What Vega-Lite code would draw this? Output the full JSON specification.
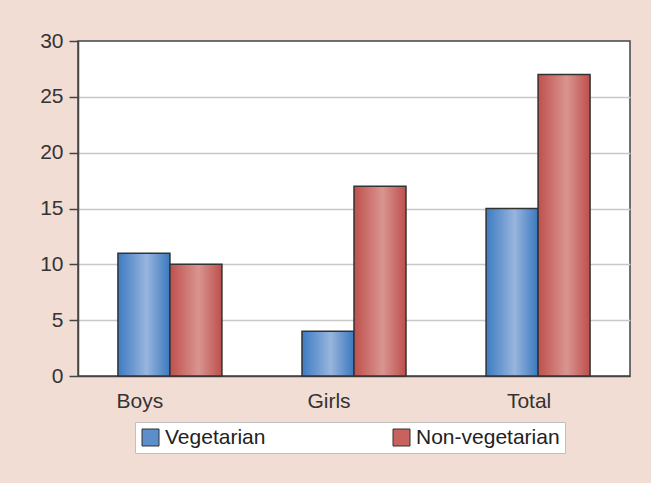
{
  "$schema": "https://vega.github.io/schema/vega-lite/v6.json",
  "width": 552,
  "height": 335,
  "autosize": "none",
  "padding": {"left": 78, "top": 41, "right": 21, "bottom": 107},
  "background": "#f2ddd4",
  "config": {
    "view": {"fill": "white", "stroke": "#444444", "strokeWidth": 1.5},
    "font": "Liberation Sans"
  },
  "data": {
    "values": [
      {"group": "Boys", "diet": "Vegetarian", "count": 11},
      {"group": "Boys", "diet": "Non-vegetarian", "count": 10},
      {"group": "Girls", "diet": "Vegetarian", "count": 4},
      {"group": "Girls", "diet": "Non-vegetarian", "count": 17},
      {"group": "Total", "diet": "Vegetarian", "count": 15},
      {"group": "Total", "diet": "Non-vegetarian", "count": 27}
    ]
  },
  "encoding": {
    "x": {
      "field": "group",
      "type": "nominal",
      "sort": ["Boys", "Girls", "Total"],
      "scale": {"paddingInner": 0.435, "paddingOuter": 0.217},
      "axis": {
        "title": null,
        "ticks": false,
        "domainColor": "#444444",
        "domainWidth": 1.5,
        "labelFontSize": 21,
        "labelColor": "#333333",
        "labelPadding": 14,
        "labelAngle": 0,
        "labelOffset": {
          "condition": [
            {"test": "datum.value === 'Boys'", "value": -30},
            {"test": "datum.value === 'Girls'", "value": -25}
          ],
          "value": -9
        }
      }
    },
    "xOffset": {
      "field": "diet",
      "type": "nominal",
      "sort": ["Vegetarian", "Non-vegetarian"],
      "scale": {"paddingInner": 0, "paddingOuter": 0}
    },
    "y": {
      "field": "count",
      "type": "quantitative",
      "scale": {"domain": [0, 30], "nice": false},
      "axis": {
        "title": null,
        "values": [0, 5, 10, 15, 20, 25, 30],
        "tickSize": 9,
        "tickColor": "#444444",
        "tickWidth": 1.5,
        "domainColor": "#444444",
        "domainWidth": 1.5,
        "labelFontSize": 21,
        "labelColor": "#333333",
        "labelPadding": 6,
        "gridColor": "#c8c8c8",
        "gridWidth": 1.5,
        "gridOpacity": {
          "condition": {"test": "datum.value === 0 || datum.value === 30", "value": 0},
          "value": 1
        }
      }
    }
  },
  "layer": [
    {
      "mark": {"type": "bar"},
      "encoding": {
        "color": {
          "field": "diet",
          "type": "nominal",
          "sort": ["Vegetarian", "Non-vegetarian"],
          "scale": {"domain": ["Vegetarian", "Non-vegetarian"], "range": ["#5a8fcc", "#c9615d"]},
          "legend": {
            "orient": "none",
            "legendX": 57,
            "legendY": 381,
            "direction": "horizontal",
            "title": null,
            "symbolType": "square",
            "symbolSize": 289,
            "symbolStrokeColor": "#333333",
            "symbolStrokeWidth": 1,
            "labelFontSize": 21,
            "labelColor": "#222222",
            "labelOffset": 4,
            "columnPadding": 125,
            "padding": 5,
            "strokeColor": "#c0c0c0",
            "fillColor": "white",
            "labelLimit": 300
          }
        }
      }
    },
    {
      "transform": [{"filter": "datum.diet === 'Vegetarian'"}],
      "mark": {
        "type": "bar",
        "stroke": "#333333",
        "strokeWidth": 1.5,
        "fill": {
          "gradient": "linear",
          "x1": 0, "y1": 0, "x2": 1, "y2": 0,
          "stops": [
            {"offset": 0, "color": "#3d7bc2"},
            {"offset": 0.55, "color": "#98b5dd"},
            {"offset": 1, "color": "#3a79bf"}
          ]
        }
      }
    },
    {
      "transform": [{"filter": "datum.diet === 'Non-vegetarian'"}],
      "mark": {
        "type": "bar",
        "stroke": "#333333",
        "strokeWidth": 1.5,
        "fill": {
          "gradient": "linear",
          "x1": 0, "y1": 0, "x2": 1, "y2": 0,
          "stops": [
            {"offset": 0, "color": "#bf504c"},
            {"offset": 0.55, "color": "#d99591"},
            {"offset": 1, "color": "#bd4f4b"}
          ]
        }
      }
    }
  ]
}
